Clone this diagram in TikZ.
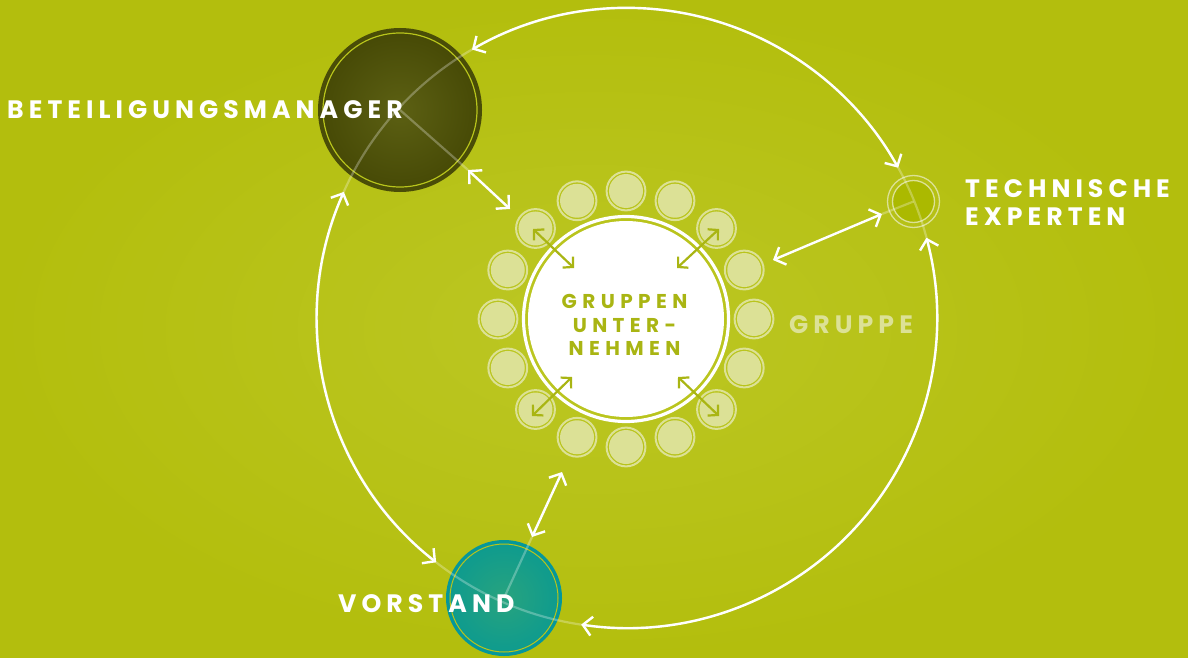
\documentclass[tikz,border=0pt]{standalone}
\usepackage{fontspec}
\newfontfamily\labfont{Poppins}[LetterSpace=20]
\newfontfamily\labfontc{Poppins}[LetterSpace=27]
\usetikzlibrary{arrows.meta,calc}
\definecolor{bgout}{HTML}{B3BE0D}
\definecolor{bgin}{HTML}{BCC724}
\definecolor{lightc}{HTML}{DCE196}
\definecolor{grn}{HTML}{A9B513}
\definecolor{bmring}{HTML}{4A4D07}
\definecolor{bmin}{HTML}{5C6013}
\definecolor{bmout}{HTML}{474A06}
\definecolor{ylw}{HTML}{B8C41C}
\definecolor{voring}{HTML}{05979A}
\definecolor{voin}{HTML}{28A37E}
\definecolor{voout}{HTML}{0E9B8E}
\definecolor{tefill}{HTML}{ABB900}
\begin{document}
\begin{tikzpicture}[x=1pt,y=-1pt,
  conn/.style={draw=white, line width=2.4pt, {Straight Barb[length=9pt,width=19pt]}-{Straight Barb[length=9pt,width=19pt]}},
  innerarrow/.style={draw=grn, line width=2.2pt, {Straight Barb[length=7pt,width=15pt]}-{Straight Barb[length=7pt,width=15pt]}},
  faint/.style={draw=white, draw opacity=0.28, line width=2.2pt},
  lab/.style={text=white, font=\labfont\bfseries\fontsize{25.2}{28}\selectfont, inner sep=0pt},
  ctext/.style={text=grn, font=\labfontc\bfseries\fontsize{20}{22}\selectfont, inner sep=0pt, anchor=base},
  dot/.style={circle, inner sep=0pt, minimum size=34pt, fill=lightc}
]
\useasboundingbox (0,0) rectangle (1188,658);
\shade[inner color=bgin, outer color=bgout] (0,0) rectangle (1188,658);

% ---- orbit centre
\coordinate (ctr) at (627,318);

% ---- Beteiligungsmanager
\node (bm) [circle, inner sep=0pt, minimum size=164pt, fill=bmring] at (400,110) {};
\shade[inner color=bmin, outer color=bmout] (bm.center) circle[radius=78];
\draw[ylw, line width=1.2pt] (bm.center) circle[radius=77];

% ---- Vorstand
\node (vo) [circle, inner sep=0pt, minimum size=116pt, fill=voring] at (504,598) {};
\shade[inner color=voin, outer color=voout] (vo.center) circle[radius=55];
\draw[ylw, line width=1pt] (vo.center) circle[radius=54];

% ---- Technische Experten
\node (te) [circle, inner sep=0pt, minimum size=42pt, fill=tefill] at (913.5,201.5) {};
\draw[lightc, line width=1.3pt] (te.center) circle[radius=21];
\draw[lightc, line width=1.3pt] (te.center) circle[radius=26];

% ---- central group
\node (grp) [circle, inner sep=0pt, minimum size=196pt, fill=white] at (626,319) {};
\draw[white, line width=3.2pt] (grp.center) circle[radius=102.5];
\foreach \i in {0,...,15}{
  \node (s\i) [dot] at ($(grp.center)+(\i*22.5:128)$) {};
  \draw[lightc, line width=2pt] (s\i.center) circle[radius=19.4];
}

% ---- faint lines
\draw[faint] (ctr) circle[radius=310];
\coordinate (bmA) at (468,170);
\coordinate (bmB) at (510,209);
\coordinate (teA) at (882,214);
\coordinate (teB) at (773,260);
\coordinate (voA) at (532,537);
\coordinate (voB) at (562,472);
\draw[faint] (bm.center) -- (bmA);
\draw[faint] (te.center) -- (teA);
\draw[faint] (vo.center) -- (voA);

% ---- orbit arrows
\coordinate (tA) at ($(ctr)+(-120:310)$);
\coordinate (rA) at ($(ctr)+(-15:310)$);
\coordinate (lA) at ($(ctr)+(128:310)$);
\draw[conn] (tA) arc[start angle=-120, end angle=-29, radius=310];
\draw[conn] (rA) arc[start angle=-15, end angle=98.5, radius=310];
\draw[conn] (lA) arc[start angle=128, end angle=204, radius=310];

% ---- spokes
\draw[conn] (bmA) -- (bmB);
\draw[conn] (teA) -- (teB);
\draw[conn] (voA) -- (voB);

% ---- inner arrows
\coordinate (i1a) at (533,229); \coordinate (i1b) at (574,268);
\coordinate (i2a) at (719,229); \coordinate (i2b) at (677,268);
\coordinate (i3a) at (532,416); \coordinate (i3b) at (572,377);
\coordinate (i4a) at (719,416); \coordinate (i4b) at (678,377);
\draw[innerarrow] (i1a) -- (i1b);
\draw[innerarrow] (i2a) -- (i2b);
\draw[innerarrow] (i3a) -- (i3b);
\draw[innerarrow] (i4a) -- (i4b);

% ---- labels
\node[lab, anchor=base west] (lbm) at (7,119) {BETEILIGUNGSMANAGER};
\node[lab, anchor=base west] (lte1) at (965,197) {TECHNISCHE};
\node[lab, anchor=base west] (lte2) at (965,225) {EXPERTEN};
\node[lab, anchor=base west] (lvo) at (338,612) {VORSTAND};
\node[lab, anchor=base west, text=lightc] (lgr) at (789,333) {GRUPPE};
\node[ctext] (c1) at (624.5,308.5) {GRUPPEN};
\node[ctext] (c2) at (624.5,332) {UNTER-};
\node[ctext] (c3) at (624.5,355.5) {NEHMEN};
\end{tikzpicture}
\end{document}
